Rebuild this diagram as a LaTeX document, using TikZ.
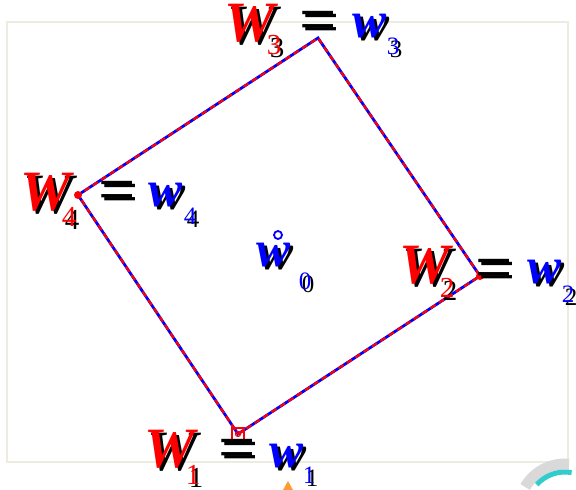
\documentclass[tikz,border=0pt]{standalone}
\usepackage{fontspec}
\setmainfont{Liberation Serif}
\usepackage{xcolor}
\usepackage{tikz}
\usetikzlibrary{calc}

\definecolor{framegray}{HTML}{EEECE1}
\definecolor{wblue}{HTML}{0000FF}
\definecolor{wred}{HTML}{FF0000}
\definecolor{spincyan}{HTML}{33CCCC}

% text with a black shadow
\newcommand{\shd}[2]{\makebox[0pt][l]{\kern3pt\raisebox{-3pt}{\textcolor{black}{#2}}}\textcolor{#1}{#2}}

\begin{document}
\begin{tikzpicture}[
    x=1pt, y=-1pt,
    bigW/.style={inner sep=0pt, font=\fontsize{57}{57}\selectfont\bfseries\itshape},
    smallw/.style={inner sep=0pt, font=\fontsize{51}{51}\selectfont\bfseries\itshape},
    subR/.style={inner sep=0pt, font=\fontsize{29}{29}\selectfont},
    subB/.style={inner sep=0pt, font=\fontsize{25}{25}\selectfont},
    eqs/.style={inner sep=0pt, font=\fontsize{66}{66}\selectfont},
    edge/.style={draw=wblue, line width=2.8pt},
    edgered/.style={draw=wred, line width=2.2pt, dash pattern=on 6pt off 4pt}
]
\useasboundingbox (0,0) rectangle (576,490);
\draw[framegray, line width=1.5pt] (7,22) rectangle (568,462);

% vertices
\coordinate (v1) at (238,434);
\coordinate (v2) at (480,276);
\coordinate (v3) at (318,38);
\coordinate (v4) at (78,195);

\draw[edge] (v1) -- (v2) -- (v3) -- (v4) -- cycle;
\draw[edgered] (v1) -- (v2) -- (v3) -- (v4) -- cycle;

\fill[wred] (v2) circle (4pt);
\fill[wred] (v4) circle (4pt);
\draw[wred, line width=2pt] ($(v1)+(-6,-6)$) rectangle ($(v1)+(6,6)$);
\draw[wred, line width=1.2pt] (v1) circle (2.5pt);

% W_3 = w_3
\node[bigW] (W3) at (250,25) {\shd{wred}{W}};
\node[subR] (W3s) at (274,47) {\shd{wred}{3}};
\node[eqs] (e3) at (318,28) {\shd{black}{=}};
\node[smallw] (w3) at (370,28) {\shd{wblue}{w}};
\node[subB] (w3s) at (393,48) {\shd{wblue}{3}};

% W_4 = w_4
\node[bigW] (W4) at (46,194) {\shd{wred}{W}};
\node[subR] (W4s) at (69,218) {\shd{wred}{4}};
\node[eqs] (e4) at (117,198) {\shd{black}{=}};
\node[smallw] (w4) at (166,197) {\shd{wblue}{w}};
\node[subB] (w4s) at (190,218) {\shd{wblue}{4}};

% W_2 = w_2
\node[bigW] (W2) at (425,267) {\shd{wred}{W}};
\node[subR] (W2s) at (447,289) {\shd{wred}{2}};
\node[eqs] (e2) at (494,276) {\shd{black}{=}};
\node[smallw] (w2) at (545,274) {\shd{wblue}{w}};
\node[subB] (w2s) at (568,296) {\shd{wblue}{2}};

% W_1 = w_1
\node[bigW] (W1) at (170,451) {\shd{wred}{W}};
\node[subR] (W1s) at (193,476) {\shd{wred}{1}};
\node[eqs] (e1) at (237,456) {\shd{black}{=}};
\node[smallw] (w1) at (287,458) {\shd{wblue}{w}};
\node[subB] (w1s) at (309,477) {\shd{wblue}{1}};

% centre w_0
\node[smallw] (w0) at (274,257) {\shd{wblue}{w}};
\node[subB] (w0s) at (305,283) {\shd{wblue}{0}};
\draw[wblue, line width=1.8pt] (278,235) circle (4pt);

% bits at the lower edge
\fill[orange!80] (283,490) -- (288,481) -- (293,490) -- cycle;
\begin{scope}
\clip (0,0) rectangle (576,490);
\draw[black!15, line width=11pt] (565,510) ++(210:46) arc[start angle=210, end angle=275, radius=46];
\draw[spincyan, line width=5pt] (565,510) ++(222:38) arc[start angle=222, end angle=280, radius=38];
\end{scope}
\end{tikzpicture}
\end{document}
